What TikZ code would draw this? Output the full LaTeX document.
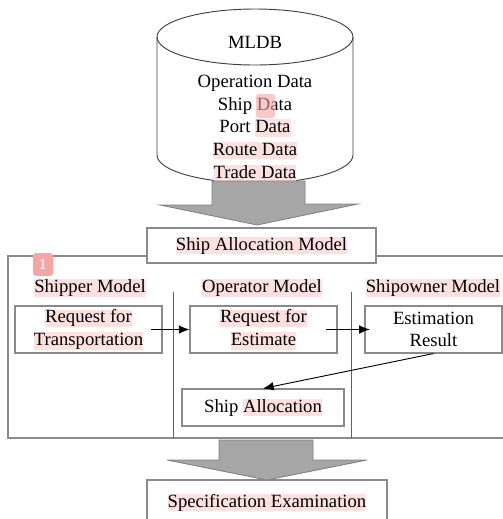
\documentclass[tikz,border=0pt]{standalone}
\usepackage{fontspec}
\setmainfont{Liberation Serif}
\usetikzlibrary{arrows.meta}
\definecolor{hlpink}{HTML}{FDE1E1}
\definecolor{markpink}{HTML}{F5A5A5}
\definecolor{edgegray}{HTML}{8A8A8A}
\definecolor{divgray}{HTML}{606060}
\definecolor{arrowfill}{HTML}{A6A6A6}
\definecolor{arrowedge}{HTML}{7F7F7F}
% highlighted text run
\newcommand\hlt[1]{{\setlength{\fboxsep}{0pt}\colorbox{hlpink}{\rule[-3pt]{0pt}{13pt}#1}}}
\begin{document}
\begin{tikzpicture}[x=0.75pt,y=-0.75pt,
  font=\fontsize{14pt}{17pt}\selectfont,
  box/.style={draw=edgegray, line width=0.8pt, fill=white, inner sep=0pt, align=center},
  lbl/.style={inner sep=0pt, align=center},
  arr/.style={-{Latex[length=8pt,width=6.5pt]}, line width=0.7pt, black},
  bigarrow/.style={fill=arrowfill, draw=arrowedge, line width=0.6pt},
  divider/.style={divgray, line width=0.7pt},
  marker/.style={fill=markpink, rounded corners=2pt, inner sep=0pt}]
\useasboundingbox (0,0) rectangle (503,519);

% database cylinder
\filldraw[fill=white, draw=black!75, line width=0.7pt]
  (157,37) -- (157,155) arc[start angle=180, end angle=0, x radius=98, y radius=28] -- (353,37);
\draw[black!75, line width=0.7pt] (255,37) ellipse [x radius=98, y radius=28];
\node[lbl] (mldb) at (255,42) {MLDB};
\node[lbl] (db) at (255,128.5) {Operation Data\\Ship Data\\Port \hlt{Data}\\\hlt{Route Data}\\\hlt{Trade Data}};
\fill[markpink, opacity=0.6, rounded corners=2pt] (256,94) rectangle (275,118);

% wide arrow down to the allocation model
\draw[bigarrow] (212,181) -- (305,181) -- (305,204) -- (358,204) -- (257,225) -- (160,205) -- (212,205) -- cycle;

% outer frame and column dividers
\draw[edgegray, line width=0.8pt] (8,256) rectangle (520,438);
\coordinate (d1t) at (173,292); \coordinate (d1b) at (173,438);
\coordinate (d2t) at (351,292); \coordinate (d2b) at (351,438);
\draw[divider] (d1t) -- (d1b);
\draw[divider] (d2t) -- (d2b);

\node[box, minimum width=171.75pt, minimum height=26.25pt] (sam) at (261.5,245.5) {\hlt{Ship Allocation Model}};

% column headings
\node[marker, minimum width=15pt, minimum height=17pt, text=white,
      font=\sffamily\fontsize{11pt}{12pt}\selectfont] (m1) at (43,264.5) {1};
\node[lbl] (hshipper) at (90,288) {\hlt{Shipper Model}};
\node[lbl] (hoperator) at (262,288) {\hlt{Operator Model}};
\node[lbl] (hshipowner) at (433,288) {\hlt{Shipowner Model}};

% process boxes
\node[box, minimum width=110.25pt, minimum height=35.25pt] (rft) at (88.5,329.5) {\hlt{Request for}\\\hlt{Transportation}};
\node[box, minimum width=110.25pt, minimum height=35.25pt] (rfe) at (263.5,329.5) {\hlt{Request for}\\\hlt{Estimate}};
\node[box, minimum width=102.75pt, minimum height=35.25pt] (er) at (433.5,329.5) {Estimation\\Result};
\node[box, minimum width=121.5pt, minimum height=27.75pt] (sa) at (263,407.5) {Ship \hlt{Allocation}};

\draw[arr] ([xshift=-9pt]rft.east) -- (rfe.west);
\draw[arr] ([xshift=-9pt]rfe.east) -- ([xshift=4pt]er.west);
\draw[arr] (er.south) -- (sa.north);

% wide arrow down to the examination step
\draw[bigarrow] (219,440) -- (313,440) -- (313,460) -- (367,460) -- (267,480) -- (167,460) -- (219,460) -- cycle;
\node[box, minimum width=180pt, minimum height=33.75pt] (se) at (267,502.5) {\hlt{Specification Examination}};
\end{tikzpicture}
\end{document}
